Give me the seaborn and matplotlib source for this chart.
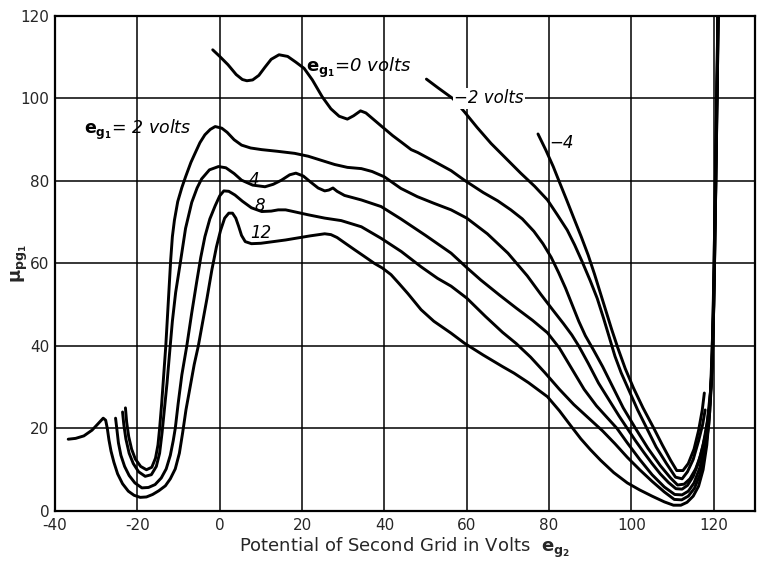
import pandas as pd
import numpy as np
import seaborn as sns
import matplotlib
matplotlib.use("Agg")
import matplotlib.pyplot as plt

# ------------------------------
# DATA
# ------------------------------
x_12 = [-36.8, -35, -33, -31, -29.5, -28.3, -27.7, -27.3, -26.9, -26.4, -25.7, -24.8, -23.6, -22.2,
        -20.8, -19.3, -17.8, -16.3, -14.8, -13.2, -12, -10.8, -9.8, -9, -8.2, -7.2, -6.2, -5.2,
        -4.2, -3.1, -1.9, -0.8, 0.2, 1.2, 2.2, 3.1, 3.9, 4.6, 5.3, 6.2, 7.7, 10, 13, 16, 19, 22,
        25.5, 27, 28.5, 30.5, 32.8, 35, 37.6, 39.5, 41.6, 43.5, 45.7, 48.9, 52, 56.2, 59.4, 64,
        68.7, 71.5, 75, 79.6, 82.5, 85, 87.7, 90, 92.5, 95.7, 99, 102, 105, 108, 110.2, 112,
        113.5, 115, 116.3, 117.4, 118.3, 119, 119.6, 120.1, 120.5, 120.8, 121.1]
y_12 = [17.4, 17.6, 18.2, 19.6, 21.2, 22.5, 22.0, 20.0, 17.2, 14.5, 11.8, 9.0, 6.6, 4.8,
        3.8, 3.3, 3.4, 4.0, 4.9, 6.1, 7.8, 10.2, 14, 19, 24.5, 30, 35.5, 40,
        45.5, 51.5, 58.5, 64, 68, 71, 72.2, 72.2, 71, 69, 66.8, 65.3, 64.8, 64.9, 65.3, 65.7, 66.2, 66.7,
        67.2, 67, 66.3, 64.9, 63.3, 61.8, 60, 58.9, 57.3, 55.2, 52.7, 48.8, 46, 43.1, 40.7, 37.8,
        35, 33.4, 31.1, 27.7, 24.3, 21, 17.5, 14.9, 12.3, 9.3, 6.8, 5.1, 3.6, 2.2, 1.4, 1.4,
        2.1, 3.6, 6, 10, 16, 24, 36, 55, 80, 100, 122]

x_8 = [-25.3, -25, -24.6, -24, -23.1, -22, -20.6, -18.9, -17.3, -15.7, -14.2, -13, -12, -11.3,
       -10.8, -10.1, -9.2, -8, -6.8, -5.6, -4.6, -3.6, -2.4, -1.1, 0, 1, 2.2, 3.7, 5.5, 7.7,
       10.2, 12.5, 14.2, 16, 17.4, 21.5, 25.5, 29.5, 34.4, 39.2, 44.1, 48.9, 52.9, 56.2, 60,
       64.5, 68.7, 72, 75.5, 79, 82.5, 86, 89.5, 93, 96, 99, 102, 105, 108, 110.4, 112.2,
       113.8, 115.3, 116.7, 117.8, 118.8, 119.5, 120, 120.4, 120.8, 121.1]
y_8 = [22.5, 20, 16.5, 13.5, 10.8, 8.6, 6.8, 5.6, 5.7, 6.4, 8, 10.2, 13.5, 17,
       20, 26, 33, 40, 48, 55.5, 61.5, 66.5, 70.8, 74, 76.4, 77.6, 77.5, 76.6, 75.1, 73.5,
       72.6, 72.7, 73, 73, 72.7, 71.8, 71, 70.4, 68.9, 66.1, 62.9, 59.2, 56.4, 54.5, 51.6,
       47.2, 43.3, 40.6, 37.3, 33.5, 29.5, 25.8, 22.6, 19.4, 16.3, 13, 10, 7.2, 4.6, 2.8, 2.7,
       3.6, 5.5, 9, 14, 21, 32, 50, 75, 100, 122]

x_4 = [-23.6, -23.3, -22.8, -22, -21, -19.7, -18.1, -16.6, -15.4, -14.6, -14, -13.4, -12.8,
       -12.2, -11.5, -10.7, -9.6, -8.3, -6.8, -5.5, -4.4, -2.5, -0.3, 1.5, 3.5, 5.3, 8, 11, 13, 15,
       17, 18.5, 20.3, 22, 23.9, 25.5, 26.5, 27.5, 28.5, 30.3, 34.4, 39.2, 44, 50, 56.2, 60,
       63.4, 68, 72, 76, 79.6, 82.5, 85.5, 88.5, 91.5, 94.5, 96.5, 99, 102, 105, 108, 110.5,
       112.3, 113.8, 115.2, 116.6, 117.7, 118.7, 119.4, 119.9, 120.3, 120.7, 121]
y_4 = [24, 21, 17.5, 14, 11.5, 9.5, 8.4, 8.8, 10.8, 14, 19, 25, 31,
       38, 46, 53, 60, 68.5, 74.8, 78.3, 80.5, 82.7, 83.5, 83.2, 81.8, 80.2, 79, 78.6, 79.2, 80.2,
       81.5, 81.9, 81.2, 79.8, 78.3, 77.6, 77.8, 78.3, 77.5, 76.5, 75.4, 73.8, 70.8, 66.8, 62.5, 59,
       56, 52.3, 49.2, 46.2, 43.2, 39.5, 34.5, 29.5, 25.5, 22.2, 20, 16.5, 12.5, 8.8, 5.8, 4,
       3.9, 4.8, 6.8, 10.5, 15, 21.5, 32, 50, 75, 100, 122]

x_2 = [-22.9, -22.6, -22.1, -21.4, -20.5, -19.2, -17.8, -16.5, -15.6, -15, -14.6, -14.1, -13.6,
       -13.1, -12.7, -12.3, -11.9, -11.5, -11, -10.2, -9.2, -8.3, -7, -6, -4.8, -3.6, -2.3, -1.1,
       0.5, 1.8, 3.5, 5.3, 7.5, 10.2, 14, 18.2, 21.5, 24.7, 27.9, 31, 34.4, 37, 40, 44, 48, 52,
       56.2, 60, 65, 70, 74.7, 78, 81, 83.5, 85.5, 87.2, 89.5, 92, 94.5, 97, 99, 101, 103, 105,
       107, 109, 110.8, 112.3, 113.6, 115, 116.3, 117.4, 118.4, 119.2, 119.7, 120.1, 120.5, 120.9,
       121.1]
y_2 = [25, 21.5, 18, 15, 12.6, 10.8, 10, 10.6, 12.8, 16, 20, 26, 33,
       40, 47, 54, 61, 66.5, 70.5, 75, 78.4, 81, 84.5, 86.7, 89.3, 91.2, 92.5, 93.2,
       92.8, 91.8, 90, 88.7, 88, 87.6, 87.2, 86.7, 86, 85, 84, 83.3, 83, 82.3, 81, 78.2, 76.2, 74.6,
       73, 71, 67.2, 62.5, 57, 52.5, 48.6, 45.4, 42.7, 40, 35.8, 31, 27, 23, 20, 17, 14.2, 11.5,
       9, 6.9, 5.4, 5.3, 6.2, 8.4, 11.8, 16, 21.5, 29, 42, 62, 88, 110,
       122]

x_0 = [-1.7, 0, 2, 4, 5.5, 6.6, 8, 9.5, 11, 12.5, 14.4, 16.5, 18.5, 20.5, 22.5, 24.9, 27, 29,
       31, 32.5, 34.2, 35.5, 37.5, 39.5, 42, 44, 46.5, 48.1, 52, 56.2, 59.4, 64, 67.5, 70.7,
       73.5, 76.3, 78.5, 80.5, 82.3, 84, 85.6, 87.2, 88.8, 90.8, 93, 95.5, 98, 101, 104, 107,
       109.5, 111.2, 112.8, 114.2, 115.6, 116.8, 118, 119, 119.6, 120, 120.5, 121]
y_0 = [111.8, 110.2, 108.2, 105.8, 104.6, 104.3, 104.5, 105.6, 107.6, 109.5, 110.6, 110.2, 108.8,
       107.3, 104.5, 100.4, 97.5, 95.7, 95, 95.8, 97, 96.5, 94.8, 93.1, 91, 89.5, 87.6, 86.9,
       84.8, 82.5, 80.2, 77.2, 75.2, 73, 70.8, 67.8, 64.8, 61.5, 57.8, 54, 50, 46, 42.5,
       39, 35, 30, 25, 20, 15.2, 11, 8, 6.3, 6.5, 7.8, 10.2, 13.5, 18.5, 25.5, 35, 50, 80, 122]

x_m2 = [50.2, 53, 56.6, 59.4, 62.5, 65.9, 69.5, 73.1, 76.5, 79.6, 82, 84.4, 86.2, 88, 90,
        91.7, 93.2, 94.5, 96, 97.5, 99.5, 101.5, 103.5, 106, 108.5, 110.7, 112.3, 113.6, 115,
        116.3, 117.3, 117.9]
y_m2 = [104.7, 102.6, 100, 96.8, 93, 89.1, 85.5, 81.9, 78.7, 75.4, 71.8, 68.1, 64.5, 60.5, 55.8,
        51.5, 46.8, 42.5, 37.5, 33.5, 29, 24.5, 20.5, 15.5, 11.5, 8.2, 7.8, 9.5, 12.5,
        17, 21, 24.5]

x_m4 = [77.3, 79.2, 81, 82.6, 84.3, 86, 87.8, 89.5, 91, 92.4, 93.8, 95.2, 96.7, 98.5, 100.5,
        102.8, 105.3, 107.5, 109.5, 111, 112.5, 113.8, 115.2, 116.3, 117.2, 117.7]
y_m4 = [91.4, 87.5, 83.5, 79.5, 75.3, 71, 66.5, 62, 57.5, 53, 48.5, 44, 39.5, 34.5, 29.8,
        25, 20.3, 16, 12.3, 9.8, 9.8, 11.5, 15, 19.5, 24.5, 28.6]

curve_names = ["12", "8", "4", "2", "0", "-2", "-4"]
curve_x = [x_12, x_8, x_4, x_2, x_0, x_m2, x_m4]
curve_y = [y_12, y_8, y_4, y_2, y_0, y_m2, y_m4]

x_ticks = [-40, -20, 0, 20, 40, 60, 80, 100, 120]
y_ticks = [0, 20, 40, 60, 80, 100, 120]

# long table for seaborn
frames = []
for name, xs, ys in zip(curve_names, curve_x, curve_y):
    frames.append(pd.DataFrame({"eg2": xs, "mu": ys, "eg1": name}))
df = pd.concat(frames, ignore_index=True)

# ------------------------------
# PLOT
# ------------------------------
sns.set_theme(style="white")
plt.rcParams["font.family"] = ["DejaVu Sans"]
plt.rcParams["mathtext.fontset"] = "dejavusans"

fig = plt.figure(figsize=(7.59, 5.63), dpi=100)
ax = fig.add_axes([0.0725, 0.0924, 0.9222, 0.8792])

sns.lineplot(data=df, x="eg2", y="mu", units="eg1", estimator=None, sort=False,
             color="black", linewidth=2.1, ax=ax, legend=False)

ax.set_xlim(-40, 130)
ax.set_ylim(0, 120)
ax.set_xticks(x_ticks)
ax.set_yticks(y_ticks)
ax.set_xticklabels([str(t) for t in x_ticks], fontsize=11)
ax.set_yticklabels([str(t) for t in y_ticks], fontsize=11)
ax.tick_params(axis="x", length=0, pad=5)
ax.tick_params(axis="y", length=0, pad=4)
ax.grid(True, color="black", linewidth=1.1)
for s in ax.spines.values():
    s.set_color("black")
    s.set_linewidth(1.6)

ax.set_xlabel("Potential of Second Grid in Volts  " + r"$\mathbf{e_{g_2}}$", fontsize=13, labelpad=2)
ax.set_ylabel(r"$\mathbf{\mu_{pg_1}}$", fontsize=13)
ax.yaxis.set_label_coords(-0.036, 0.5)

# curve labels
lab = dict(style="italic", color="black")
ax.text(21, 107.5, r"$\mathbf{e_{g_1}}$=0 volts", va="center", ha="left", fontsize=13, **lab)
ax.text(-33, 92.4, r"$\mathbf{e_{g_1}}$= 2 volts", va="center", ha="left", fontsize=12.5, **lab)
ax.text(57, 100, "\u22122 volts", va="center", ha="left", fontsize=12,
        bbox=dict(facecolor="white", edgecolor="none", pad=1), **lab)
ax.text(80, 89.2, "\u22124", va="center", ha="left", fontsize=12, **lab)
ax.text(7, 80.2, "4", va="center", ha="left", fontsize=12, **lab)
ax.text(8.5, 73.9, "8", va="center", ha="left", fontsize=12, **lab)
ax.text(7.3, 67.4, "12", va="center", ha="left", fontsize=12, **lab)

fig.savefig("out.png", dpi=100)
